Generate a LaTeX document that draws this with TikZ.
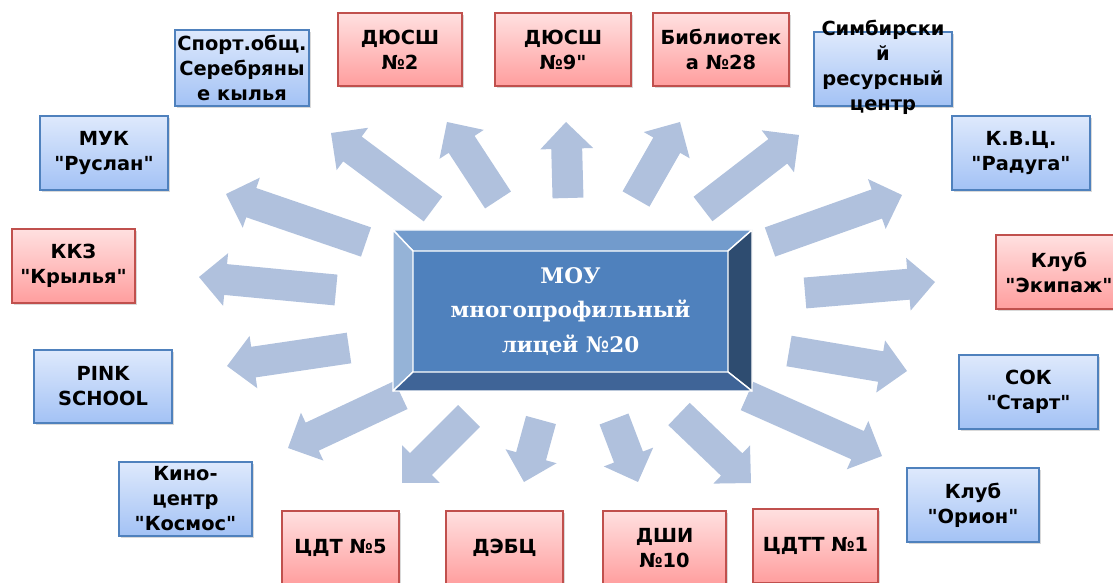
\documentclass[tikz,border=0pt]{standalone}
\usepackage{fontspec}
\newfontfamily\boxfont{DejaVu Sans}[Ligatures=TeXOff]
\newfontfamily\lycfont{DejaVu Serif}[Ligatures=TeXOff]
\usetikzlibrary{calc,shadows}

\definecolor{boxbluetop}{RGB}{222,233,252}
\definecolor{boxbluebot}{RGB}{163,194,245}
\definecolor{boxblueline}{RGB}{79,129,189}
\definecolor{boxredtop}{RGB}{255,224,224}
\definecolor{boxredbot}{RGB}{255,158,158}
\definecolor{boxredline}{RGB}{192,80,77}
\definecolor{arrowfill}{RGB}{176,193,221}
\definecolor{lycfill}{RGB}{79,129,189}
\definecolor{bevtop}{RGB}{114,155,204}
\definecolor{bevleft}{RGB}{149,179,215}
\definecolor{bevright}{RGB}{46,76,112}
\definecolor{bevbot}{RGB}{63,100,151}

\tikzset{
  box/.style={draw, line width=1.3pt, align=center, inner sep=1pt,
    font=\boxfont\bfseries\fontsize{13.8}{17.8}\selectfont,
    drop shadow={opacity=0.3, shadow xshift=1.2pt, shadow yshift=-1.2pt}},
  bluebox/.style={box, draw=boxblueline, top color=boxbluetop, bottom color=boxbluebot},
  redbox/.style={box, draw=boxredline, top color=boxredtop, bottom color=boxredbot},
  boxsize/.style 2 args={minimum width=#1*0.7113pt, minimum height=#2*0.7113pt},
  boxtext/.style={align=center, inner sep=0pt,
    font=\boxfont\bfseries\fontsize{13.8}{17.8}\selectfont},
  bevel/.style={draw=white, line width=1pt, line join=round}
}

\begin{document}
\begin{tikzpicture}[x=0.025cm, y=-0.025cm]
        \clip (0,0) rectangle (1113,583);
        % Draw block arrows (tail -> tip)
        \foreach \dest/\tx/\ty/\hx/\hy in {sport/433/209/331/133, dyusshtwo/498/200/447/122,
            dyusshnine/568/198/566/122, biblio/636/199/680/122, simb/703/209/799/135,
            muk/366/242/226/194, kkz/336/290/199/277, pink/349/348/227/366,
            kino/401/395/288/448, cdtfive/469/416/402/483, debc/541/420/524/482,
            dshi/614/419/638/482, cdtt/679/414/751/483, orion/747/396/882/456,
            sok/789/351/907/371, ekipazh/805/293/935/282, kvc/770/242/902/195} {
            \coordinate (\dest-tail) at (\tx,\ty);
            \coordinate (\dest-tip) at (\hx,\hy);
            \coordinate (\dest-neck) at ($(\dest-tip)!19pt!(\dest-tail)$);
            \fill[arrowfill] ($(\dest-tail)!11pt!90:(\dest-tip)$)
                -- ($(\dest-neck)!11pt!90:(\dest-tip)$)
                -- ($(\dest-neck)!18.8pt!90:(\dest-tip)$)
                -- (\dest-tip)
                -- ($(\dest-neck)!18.8pt!-90:(\dest-tip)$)
                -- ($(\dest-neck)!11pt!-90:(\dest-tip)$)
                -- ($(\dest-tail)!11pt!-90:(\dest-tip)$) -- cycle;
        }
        % Draw the lyceum with its bevelled frame
        \node[fill=lycfill, inner sep=0pt, outer sep=0pt, align=center, text=white,
            minimum width=315*0.7113pt, minimum height=121*0.7113pt,
            font=\lycfont\bfseries\fontsize{15.3}{24.3}\selectfont] (lyceum) at (570.5,311.5)
            {МОУ\\многопрофильный\\лицей №20};
        \coordinate (otl) at (393,230);
        \coordinate (otr) at (752,230);
        \coordinate (obr) at (752,391);
        \coordinate (obl) at (393,391);
        \filldraw[bevel, fill=bevtop] (otl) -- (otr) -- (lyceum.north east) -- (lyceum.north west) -- cycle;
        \filldraw[bevel, fill=bevleft] (otl) -- (lyceum.north west) -- (lyceum.south west) -- (obl) -- cycle;
        \filldraw[bevel, fill=bevright] (otr) -- (obr) -- (lyceum.south east) -- (lyceum.north east) -- cycle;
        \filldraw[bevel, fill=bevbot] (obl) -- (lyceum.south west) -- (lyceum.south east) -- (obr) -- cycle;
        % Top row
        \node[bluebox, boxsize={134}{76}] (sport) at (242,68) {Спорт.общ.\\Серебряны\\е кылья};
        \node[redbox, boxsize={124}{73}] (dyusshtwo) at (400,49.5) {ДЮСШ\\№2};
        \node[redbox, boxsize={136}{73}] (dyusshnine) at (563,49.5) {ДЮСШ\\№9"};
        \node[redbox, boxsize={136}{73}] (biblio) at (721,49.5) {Библиотек\\а №28};
        \node[bluebox, boxsize={138}{74}] (simb) at (883,69) {};
        \node[boxtext] (simbtext) at (883,67) {Симбирски\\й\\ресурсный\\центр};
        % Left side
        \node[bluebox, boxsize={128}{74}] (muk) at (104,153) {МУК\\"Руслан"};
        \node[redbox, boxsize={123}{74}] (kkz) at (73.5,266) {ККЗ\\"Крылья"};
        \node[bluebox, boxsize={138}{73}] (pink) at (103,386.5) {PINK\\SCHOOL};
        \node[bluebox, boxsize={133}{74}] (kino) at (185.5,499) {Кино-\\центр\\"Космос"};
        % Bottom row
        \node[redbox, boxsize={117}{74}] (cdtfive) at (340.5,548) {ЦДТ №5};
        \node[redbox, boxsize={117}{74}] (debc) at (504.5,548) {ДЭБЦ};
        \node[redbox, boxsize={123}{74}] (dshi) at (664.5,548) {ДШИ\\№10};
        \node[redbox, boxsize={125}{74}] (cdtt) at (815.5,546) {ЦДТТ №1};
        % Right side
        \node[bluebox, boxsize={132}{74}] (orion) at (973,505) {Клуб\\"Орион"};
        \node[bluebox, boxsize={139}{74}] (sok) at (1028.5,392) {СОК\\"Старт"};
        \node[redbox, boxsize={126}{74}] (ekipazh) at (1059,272) {Клуб\\"Экипаж"};
        \node[bluebox, boxsize={138}{74}] (kvc) at (1021,153) {К.В.Ц.\\"Радуга"};
\end{tikzpicture}
\end{document}
